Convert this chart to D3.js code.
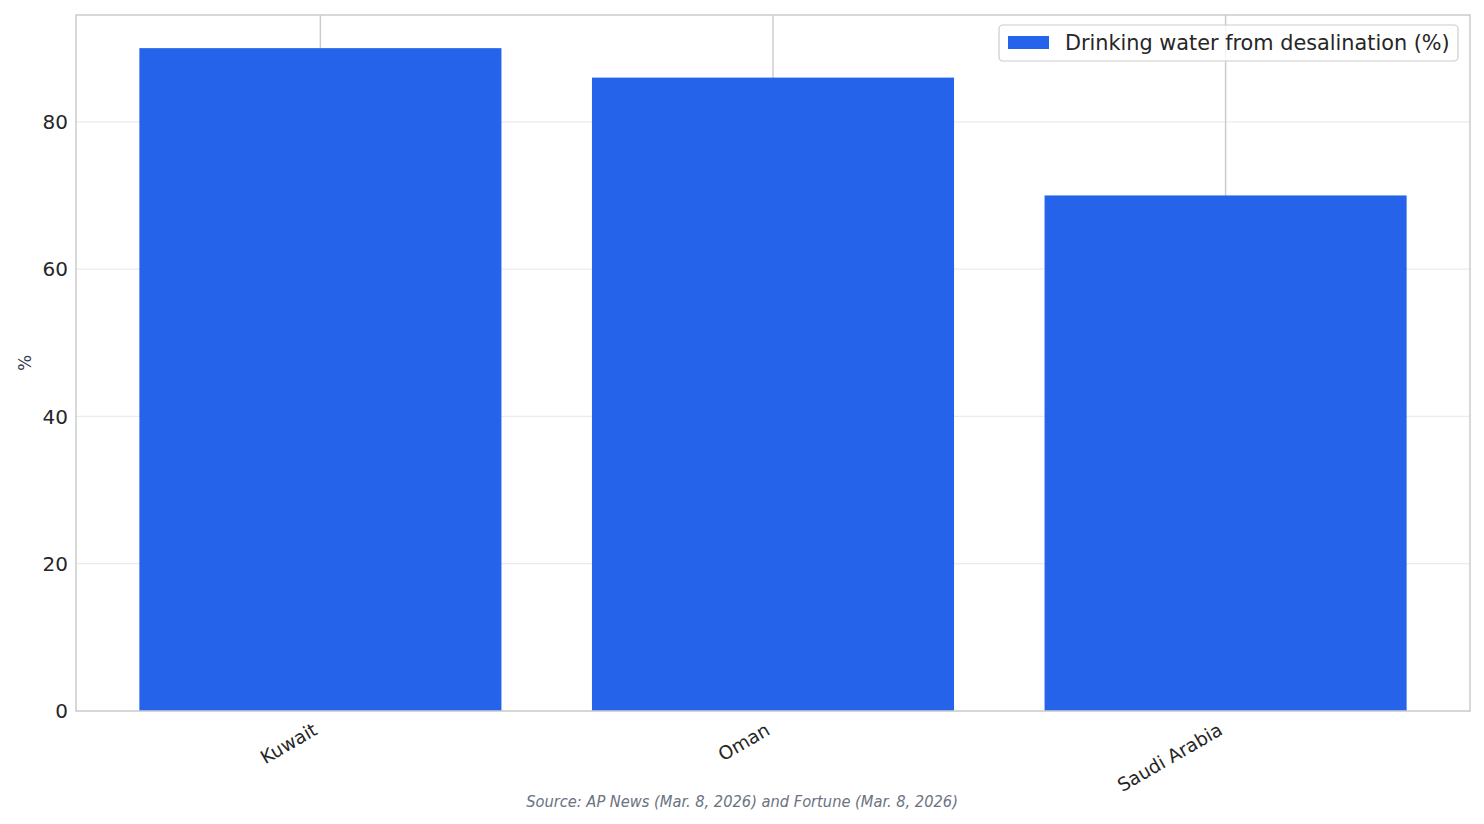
<!DOCTYPE html>
<html><head><meta charset="utf-8">
<script src="https://cdn.jsdelivr.net/npm/d3@7"></script>
<style>
html,body{margin:0;padding:0;background:#fff;}
svg{display:block;font-family:"DejaVu Sans",sans-serif;}
</style></head>
<body>
<svg id="chart" width="1484" height="824"></svg>
<script>
const categories = ["Kuwait", "Oman", "Saudi Arabia"];
const values = [90, 86, 70];
const yTicks = [0, 20, 40, 60, 80];
const seriesName = "Drinking water from desalination (%)";
const yLabel = "%";
const sourceText = "Source: AP News (Mar. 8, 2026) and Fortune (Mar. 8, 2026)";

const svg = d3.select("#chart");
const L = 76, R = 1470, T = 15, B = 711;
const x = d3.scaleLinear().domain([-0.54, categories.length - 1 + 0.54]).range([L, R]);
const y = d3.scaleLinear().domain([0, 94.5]).range([B, T]);
const bw = 0.8;

// grid
svg.append("g").selectAll("line").data(yTicks).join("line")
  .attr("x1", L).attr("x2", R).attr("y1", d => y(d)).attr("y2", d => y(d))
  .attr("stroke", "#ebebeb").attr("stroke-width", 1.2);
svg.append("g").selectAll("line").data(categories).join("line")
  .attr("x1", (d, i) => x(i)).attr("x2", (d, i) => x(i)).attr("y1", T).attr("y2", B)
  .attr("stroke", "#cccccc").attr("stroke-width", 1.5);

// bars
svg.append("g").selectAll("rect").data(values).join("rect")
  .attr("x", (d, i) => x(i - bw / 2))
  .attr("width", (d, i) => x(i + bw / 2) - x(i - bw / 2))
  .attr("y", d => y(d))
  .attr("height", d => B - y(d))
  .attr("fill", "#2563eb");

// frame
svg.append("rect").attr("x", L).attr("y", T).attr("width", R - L).attr("height", B - T)
  .attr("fill", "none").attr("stroke", "#cccccc").attr("stroke-width", 1.5);

// y ticks
svg.append("g").selectAll("text").data(yTicks).join("text")
  .attr("x", L - 8).attr("y", d => y(d)).attr("dy", "0.36em")
  .attr("text-anchor", "end").attr("font-size", 20).attr("fill", "#262626")
  .text(d => d);

// x ticks
svg.append("g").selectAll("text").data(categories).join("text")
  .attr("transform", (d, i) => `translate(${x(i) - 5},${B + 17}) rotate(-30)`)
  .attr("text-anchor", "end").attr("dy", "0.35em")
  .attr("font-size", 18.5).attr("fill", "#262626")
  .text(d => d);

// y label
svg.append("text").attr("transform", `translate(31,${(T + B) / 2}) rotate(-90)`)
  .attr("text-anchor", "middle").attr("font-size", 17).attr("fill", "#374151")
  .text(yLabel);

// legend
const lg = svg.append("g");
lg.append("rect").attr("x", 999).attr("y", 25).attr("width", 459).attr("height", 36)
  .attr("rx", 4).attr("fill", "#fff").attr("fill-opacity", 0.8)
  .attr("stroke", "#cccccc").attr("stroke-width", 1.2);
lg.append("rect").attr("x", 1008).attr("y", 36).attr("width", 41).attr("height", 13)
  .attr("fill", "#2563eb");
lg.append("text").attr("x", 1065).attr("y", 43).attr("dy", "0.36em")
  .attr("font-size", 20.8).attr("fill", "#262626").text(seriesName);

// source
svg.append("text").attr("x", 742).attr("y", 807).attr("text-anchor", "middle")
  .attr("font-size", 16.3).attr("font-style", "italic").attr("font-stretch", "condensed")
  .attr("font-family", "'DejaVu Sans Condensed','DejaVu Sans',sans-serif")
  .attr("fill", "#6b7280").text(sourceText);
</script>
</body></html>
